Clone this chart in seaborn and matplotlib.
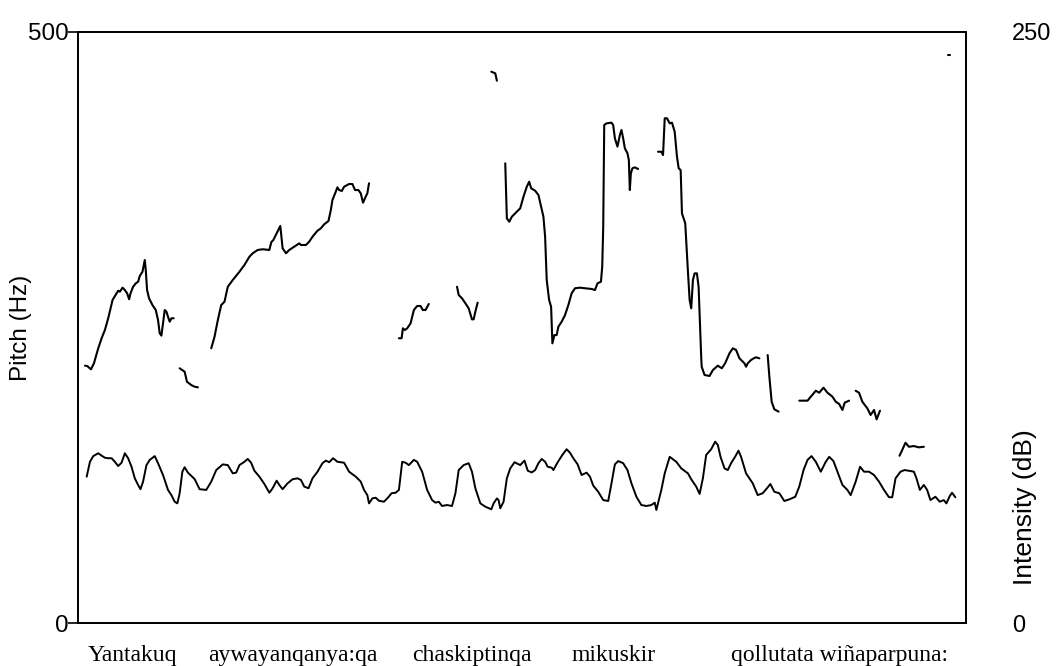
import matplotlib
matplotlib.use("Agg")
import matplotlib.pyplot as plt
import pandas as pd
import seaborn as sns

# ---------------- data ----------------
words = ["Yantakuq", "aywayanqanya:qa", "chaskiptinqa", "mikuskir", "qollutata wiñaparpuna:"]
word_time = [0.545, 2.16, 3.95, 5.37, 7.64]   # s, centre of each word
duration = 8.91                               # s
pitch_range = (0, 500)                        # Hz
intensity_range = (0, 250)                    # dB

# pitch contour, one list per voiced stretch (time s, F0 Hz)
pitch_time = [
    [0.070, 0.093, 0.130, 0.160, 0.203, 0.237, 0.270, 0.303, 0.347, 0.387,
     0.403, 0.420, 0.447, 0.470, 0.493, 0.513, 0.527, 0.553, 0.580, 0.603,
     0.620, 0.647, 0.670, 0.680, 0.693, 0.713, 0.747, 0.780, 0.803, 0.820,
     0.837, 0.853, 0.870, 0.887, 0.903, 0.920, 0.937, 0.960],
    [1.020, 1.070, 1.093, 1.137, 1.170, 1.203],
    [1.337, 1.370, 1.403, 1.437, 1.470, 1.503, 1.553, 1.620, 1.670, 1.720,
     1.753, 1.803, 1.853, 1.920, 1.940, 1.960, 1.980, 2.000, 2.030, 2.053,
     2.087, 2.120, 2.170, 2.220, 2.237, 2.287, 2.320, 2.353, 2.403, 2.437,
     2.470, 2.513, 2.537, 2.553, 2.580, 2.603, 2.620, 2.647, 2.670, 2.720,
     2.753, 2.780, 2.813, 2.837, 2.860, 2.887, 2.903, 2.920],
    [3.220, 3.247, 3.260, 3.280, 3.303, 3.337, 3.370, 3.403, 3.437, 3.460,
     3.487, 3.520],
    [3.803, 3.820, 3.853, 3.887, 3.920, 3.953, 3.970, 3.987, 4.010],
    [4.147, 4.187, 4.203],
    [4.287, 4.303, 4.327, 4.353, 4.403, 4.437, 4.470, 4.503, 4.527, 4.547,
     4.587, 4.620, 4.647, 4.670, 4.687, 4.703, 4.727, 4.747, 4.760, 4.780,
     4.803, 4.820, 4.853, 4.887, 4.920, 4.953, 4.987, 5.037, 5.087, 5.153,
     5.187, 5.213, 5.247, 5.260, 5.270, 5.280, 5.303, 5.353, 5.370, 5.387,
     5.413, 5.437, 5.453, 5.470, 5.487, 5.513, 5.527, 5.537, 5.547, 5.563,
     5.587, 5.620],
    [5.820, 5.853, 5.870, 5.887, 5.910, 5.937, 5.960, 5.987, 6.010, 6.027,
     6.047, 6.060, 6.093, 6.120, 6.137, 6.153, 6.170, 6.187, 6.210, 6.227,
     6.253, 6.258, 6.287, 6.337, 6.370, 6.420, 6.460, 6.493, 6.537, 6.570,
     6.603, 6.637, 6.687, 6.703, 6.720, 6.753, 6.780, 6.803, 6.837],
    [6.920, 6.937, 6.960, 6.987, 7.030],
    [7.237, 7.320, 7.353, 7.403, 7.437, 7.480, 7.520, 7.570, 7.603, 7.637,
     7.670, 7.693, 7.737],
    [7.803, 7.837, 7.870, 7.920, 7.953, 7.987, 8.013, 8.047],
    [8.243, 8.270, 8.303, 8.337, 8.387, 8.437, 8.487],
    [8.725, 8.750],
]
pitch_hz = [
    [217.7, 217.4, 214.6, 219.7, 232.4, 240.9, 247.9, 257.8, 273.3, 278.9,
     281.1, 280.3, 283.7, 281.7, 278.9, 273.9, 278.9, 284.5, 287.4, 288.7,
     293.6, 297.2, 307.1, 298.6, 281.7, 274.7, 269.0, 264.8, 256.3, 245.1,
     243.1, 253.5, 264.8, 263.4, 259.1, 254.9, 257.8, 257.8],
    [215.5, 212.6, 204.1, 201.3, 199.9, 199.4],
    [232.4, 242.2, 256.3, 269.0, 271.8, 284.5, 290.2, 297.2, 302.9, 309.9,
     312.8, 315.6, 316.2, 315.6, 322.3, 324.0, 327.4, 330.8, 335.9, 317.0,
     312.8, 315.6, 318.4, 321.2, 319.8, 319.8, 322.6, 326.8, 331.9, 333.9,
     337.3, 340.1, 349.4, 357.9, 363.5, 368.6, 366.3, 365.5, 369.1, 371.4,
     371.4, 366.3, 366.3, 363.5, 355.6, 360.7, 363.5, 372.0],
    [240.9, 240.9, 249.3, 247.9, 249.3, 253.5, 264.8, 268.2, 268.2, 264.8,
     264.8, 269.9],
    [284.5, 277.5, 274.7, 270.5, 266.2, 256.9, 256.9, 263.4, 271.0],
    [466.4, 465.0, 458.8],
    [388.9, 342.4, 339.5, 343.7, 348.0, 350.8, 360.7, 369.1, 373.3, 367.8,
     365.7, 362.1, 352.2, 343.7, 326.8, 290.2, 273.3, 267.6, 236.6, 243.6,
     243.6, 250.7, 254.9, 260.6, 269.0, 278.9, 283.2, 283.7, 283.2, 282.6,
     281.7, 287.4, 288.7, 301.4, 335.3, 421.3, 422.7, 423.3, 421.3, 410.1,
     403.0, 412.8, 417.1, 410.1, 401.6, 397.4, 391.7, 366.3, 380.4, 384.7,
     385.5, 384.1],
    [398.7, 398.7, 395.9, 427.0, 427.0, 422.7, 423.3, 415.6, 394.5, 384.7,
     383.2, 346.6, 338.1, 297.2, 273.3, 266.2, 290.2, 295.8, 295.8, 284.5,
     225.3, 216.8, 209.8, 209.0, 214.0, 217.7, 215.5, 219.7, 228.2, 232.4,
     231.0, 223.9, 219.7, 216.8, 219.7, 222.5, 223.9, 224.8, 223.9],
    [226.7, 208.4, 187.2, 180.8, 178.8],
    [188.1, 188.1, 191.5, 196.5, 194.8, 199.1, 194.8, 191.5, 187.2, 185.3,
     180.2, 186.4, 188.1],
    [196.5, 194.8, 187.2, 181.6, 176.0, 180.2, 172.3, 179.6],
    [141.5, 146.4, 152.5, 149.1, 149.7, 148.6, 149.1],
    [480.5, 480.5],
]

# intensity contour (time s, dB)
intensity_time = [
    0.087, 0.120, 0.153, 0.203, 0.237, 0.270, 0.303, 0.337, 0.370, 0.403,
    0.437, 0.470, 0.503, 0.537, 0.570, 0.603, 0.627, 0.653, 0.687, 0.720,
    0.770, 0.803, 0.853, 0.903, 0.937, 0.970, 0.997, 1.020, 1.047, 1.070,
    1.103, 1.170, 1.220, 1.287, 1.337, 1.387, 1.453, 1.503, 1.553, 1.587,
    1.620, 1.670, 1.703, 1.737, 1.770, 1.820, 1.870, 1.920, 1.953, 1.993,
    2.020, 2.053, 2.103, 2.153, 2.203, 2.237, 2.270, 2.313, 2.353, 2.403,
    2.453, 2.487, 2.520, 2.560, 2.603, 2.670, 2.720, 2.787, 2.837, 2.870,
    2.903, 2.920, 2.953, 2.987, 3.020, 3.070, 3.103, 3.147, 3.187, 3.220,
    3.253, 3.287, 3.320, 3.370, 3.403, 3.453, 3.503, 3.553, 3.587, 3.620,
    3.653, 3.703, 3.753, 3.787, 3.820, 3.870, 3.920, 3.953, 3.987, 4.037,
    4.087, 4.147, 4.170, 4.203, 4.220, 4.237, 4.270, 4.303, 4.337, 4.380,
    4.437, 4.480, 4.513, 4.553, 4.587, 4.620, 4.653, 4.687, 4.713, 4.753,
    4.770, 4.813, 4.860, 4.903, 4.937, 4.970, 5.013, 5.053, 5.103, 5.137,
    5.170, 5.220, 5.270, 5.320, 5.353, 5.387, 5.420, 5.470, 5.513, 5.553,
    5.603, 5.653, 5.703, 5.753, 5.787, 5.803, 5.853, 5.887, 5.937, 6.003,
    6.053, 6.120, 6.153, 6.203, 6.237, 6.270, 6.303, 6.353, 6.393, 6.420,
    6.447, 6.487, 6.520, 6.553, 6.593, 6.627, 6.653, 6.703, 6.770, 6.820,
    6.870, 6.913, 6.947, 6.987, 7.037, 7.087, 7.137, 7.197, 7.237, 7.280,
    7.320, 7.360, 7.403, 7.453, 7.503, 7.537, 7.580, 7.620, 7.670, 7.720,
    7.753, 7.803, 7.847, 7.887, 7.937, 7.987, 8.037, 8.087, 8.137, 8.170,
    8.203, 8.253, 8.293, 8.337, 8.387, 8.413, 8.447, 8.487, 8.520, 8.553,
    8.603, 8.647, 8.687, 8.713, 8.747, 8.770, 8.803,
]
intensity_db = [
    61.9, 68.2, 70.6, 71.8, 70.8, 69.9, 69.7, 69.7, 68.2, 66.4,
    67.8, 71.8, 69.7, 66.1, 61.2, 58.4, 56.6, 59.8, 66.8, 69.0,
    70.6, 67.6, 62.6, 56.3, 54.1, 51.3, 50.6, 54.9, 64.0, 65.9,
    63.6, 60.9, 56.6, 56.3, 59.8, 64.7, 67.1, 66.8, 63.3, 63.6,
    66.8, 68.2, 69.4, 67.8, 64.4, 61.9, 58.8, 55.1, 57.0, 60.2,
    58.4, 56.6, 59.1, 60.8, 61.2, 60.5, 57.7, 57.0, 61.2, 64.0,
    67.6, 68.7, 68.0, 69.7, 68.2, 67.8, 64.0, 61.9, 59.8, 56.3,
    54.1, 50.6, 52.7, 53.0, 51.7, 51.3, 52.7, 54.9, 55.1, 56.3,
    68.2, 67.8, 66.8, 69.0, 68.2, 64.0, 56.3, 52.0, 50.9, 51.3,
    49.5, 49.9, 49.5, 54.9, 64.7, 66.8, 67.6, 64.0, 57.0, 50.6,
    49.2, 48.1, 50.6, 52.7, 52.0, 48.5, 51.3, 61.2, 65.4, 68.0,
    66.8, 68.7, 64.4, 63.7, 64.7, 67.6, 69.4, 68.2, 66.1, 65.7,
    64.7, 68.0, 71.1, 73.5, 72.0, 69.7, 67.1, 62.6, 63.6, 61.9,
    58.1, 55.5, 52.0, 51.6, 59.1, 67.1, 68.5, 67.6, 64.7, 59.1,
    53.4, 49.9, 49.5, 49.9, 50.9, 47.8, 56.3, 63.3, 70.3, 68.2,
    65.4, 63.3, 60.8, 57.7, 54.6, 61.2, 71.1, 73.5, 76.7, 75.3,
    70.3, 65.4, 64.7, 67.6, 70.3, 72.9, 70.3, 63.3, 59.1, 54.1,
    54.9, 57.0, 58.8, 55.5, 54.9, 51.6, 52.3, 53.4, 57.7, 64.7,
    69.0, 70.6, 68.2, 64.0, 68.2, 70.3, 68.5, 64.0, 58.4, 56.3,
    54.1, 59.8, 66.1, 64.0, 64.0, 62.6, 59.8, 56.3, 53.2, 53.2,
    61.2, 64.0, 64.7, 64.4, 64.0, 61.2, 56.3, 58.4, 56.3, 52.0,
    53.4, 51.3, 52.0, 50.6, 53.7, 55.1, 53.2,
]

# ---------------- tables ----------------
pitch_df = pd.DataFrame({
    "time": [t for seg in pitch_time for t in seg],
    "f0": [v for seg in pitch_hz for v in seg],
    "run": [i for i, seg in enumerate(pitch_time) for _ in seg],
})
int_df = pd.DataFrame({"time": intensity_time, "db": intensity_db})

# ---------------- style ----------------
sns.set_style("ticks")
plt.rcParams["font.family"] = ["Liberation Sans", "DejaVu Sans"]
plt.rcParams["axes.linewidth"] = 1.3

fig = plt.figure(figsize=(10.62, 6.66), dpi=100)
ax = fig.add_axes([78 / 1062, 43 / 666, 888 / 1062, 591 / 666])

sns.lineplot(data=pitch_df, x="time", y="f0", units="run", estimator=None,
             sort=False, color="black", lw=1.5, ax=ax, legend=False)

ax2 = ax.twinx()
sns.lineplot(data=int_df, x="time", y="db", estimator=None, sort=False,
             color="black", lw=1.4, ax=ax2, legend=False)

ax.set_xlim(0, duration)
ax.set_ylim(*pitch_range)
ax2.set_ylim(*intensity_range)

for a in (ax, ax2):
    for s in a.spines.values():
        s.set_visible(True)
        s.set_color("black")
        s.set_linewidth(1.3)

# left (pitch) axis
ax.set_yticks(list(pitch_range))
ax.tick_params(axis="y", direction="out", length=7, width=1.2, pad=0,
               labelsize=17.5, colors="black")
ax.set_ylabel("Pitch (Hz)", fontsize=17.5, color="black")
ax.yaxis.set_label_coords(-0.052, 0.5)

# bottom: word labels
ax.set_xticks(word_time)
ax.set_xticklabels(words, fontfamily=["Liberation Serif", "DejaVu Serif"], fontsize=17)
ax.tick_params(axis="x", length=0, pad=16, colors="black")
ax.set_xlabel("")

# right (intensity) axis
ax2.set_yticks(list(intensity_range))
ax2.tick_params(axis="y", length=0, pad=33, labelsize=17, colors="black")
ax2.set_ylabel("Intensity (dB)", fontsize=19, color="black")
ax2.yaxis.set_label_coords(1.053, 0.196)

fig.savefig("out.png", dpi=100)
